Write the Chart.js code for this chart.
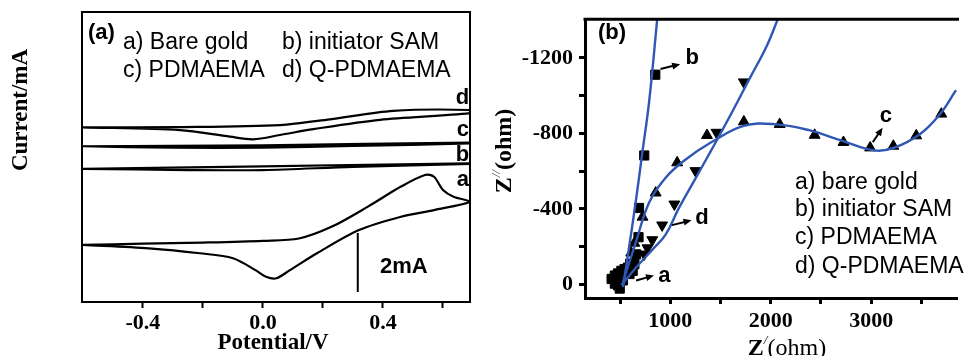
<!DOCTYPE html>
<html>
<head>
<meta charset="utf-8">
<script src="https://cdn.jsdelivr.net/npm/chart.js@4.4.1/dist/chart.umd.min.js"></script>
<style>
  html, body { margin: 0; padding: 0; background: #fff; }
  #wrap { position: relative; width: 965px; height: 356px; overflow: hidden; }
  #cv-a { position: absolute; left: 0; top: 0; }
  #cv-b { position: absolute; left: 480px; top: 0; }
</style>
</head>
<body>
<div id="wrap">
  <canvas id="cv-a" width="480" height="356"></canvas>
  <canvas id="cv-b" width="485" height="356"></canvas>
</div>
<script>
// ---- panel (a): cyclic voltammograms (curves offset vertically, y in mA) ----
const cvLabels = ['a', 'b', 'c', 'd'];
const cvA_x = [-0.6, -0.4, -0.2, 0.0, 0.12, 0.23, 0.35, 0.46, 0.54, 0.57, 0.6, 0.635, 0.69,
               0.57, 0.46, 0.32, 0.18, 0.09, 0.045, 0.01, -0.025, -0.1, -0.21, -0.38, -0.6];
const cvA_y = [1.97, 2.01, 2.05, 2.11, 2.19, 2.6, 3.29, 3.98, 4.38, 4.32, 3.86, 3.63, 3.46,
               3.17, 2.94, 2.48, 1.68, 1.10, 0.82, 0.87, 1.10, 1.51, 1.68, 1.85, 1.97];
const cvB_x = [-0.6, 0.0, 0.69, 0.69, 0.3, 0.0, -0.25, -0.6];
const cvB_y = [4.59, 4.68, 4.78, 4.76, 4.66, 4.55, 4.55, 4.59];
const cvC_x = [-0.6, 0.0, 0.69, 0.69, 0.3, 0.0, -0.3, -0.6];
const cvC_y = [5.37, 5.40, 5.50, 5.47, 5.38, 5.32, 5.32, 5.37];
const cvD_x = [-0.6, -0.277, 0.057, 0.223, 0.434, 0.69, 0.69, 0.39, 0.168, 0.057, -0.032, -0.11, -0.277, -0.6];
const cvD_y = [6.02, 6.03, 6.10, 6.30, 6.59, 6.62, 6.51, 6.28, 5.96, 5.76, 5.61, 5.70, 5.93, 6.02];
const scaleBar_x = [0.316, 0.316];
const scaleBar_y = [0.345, 2.38];
const potTicks = [-0.4, -0.2, 0.0, 0.2, 0.4, 0.6];
const potTickLabels = [-0.4, 0.0, 0.4];

// ---- panel (b): Nyquist plots, Z' and Z'' in ohm ----
const bareGold_re = [415, 447, 479, 512, 544, 577, 610, 642, 625, 593, 528, 479, 496, 447];
const bareGold_im = [-29, -47, -58, -72, -81, -89, -98, -107, -72, -55, -21, 5, 22, -4];
const sam_re = [600, 659, 683, 688, 740, 850];
const sam_im = [-110, -159, -250, -405, -683, -1111];
const pdma_re = [610, 642, 723, 854, 1068, 1365, 1732, 2089, 2437, 2724, 2990, 3221, 3449, 3699];
const pdma_im = [-167, -219, -357, -485, -645, -790, -862, -848, -791, -753, -724, -733, -788, -903];
const qpdma_re = [740, 772, 820, 918, 1040, 1250, 1460, 1732];
const qpdma_im = [-160, -193, -236, -314, -425, -602, -805, -1072];
// fitted curves
const fitB_re = [528, 593, 659, 724, 789, 870];
const fitB_im = [14, -210, -452, -710, -969, -1409];
const fitC_re = [528, 659, 789, 951, 1146, 1407, 1732, 2057, 2382, 2707, 3033, 3228, 3488, 3683, 3845];
const fitC_im = [-12, -228, -434, -564, -659, -753, -840, -848, -817, -762, -710, -724, -797, -900, -1029];
const fitD_re = [512, 659, 821, 951, 1081, 1244, 1407, 1602, 1797, 1959, 2073];
const fitD_im = [5, -90, -184, -262, -400, -555, -710, -900, -1098, -1262, -1409];
const zReTicks = [500, 1000, 1500, 2000, 2500, 3000, 3500];
const zReTickLabels = [1000, 2000, 3000];
const zImTicks = [-1200, -1000, -800, -600, -400, -200, 0];
const zImTickLabels = [-1200, -800, -400, 0];

const SERIF = '"Liberation Serif", "Times New Roman", serif';
const SANS = '"Liberation Sans", Arial, sans-serif';
const BLUE = '#2f57b3';

function toPoints(xs, ys) {
  return xs.map((x, i) => ({ x: x, y: ys[i] }));
}

function drawRuns(ctx, runs, x, y, rotate, align) {
  ctx.save();
  ctx.translate(x, y);
  if (rotate) ctx.rotate(rotate);
  let w = 0;
  runs.forEach(r => { ctx.font = r.font; w += ctx.measureText(r.text).width; });
  let cx = align === 'center' ? -w / 2 : (align === 'right' ? -w : 0);
  ctx.textBaseline = 'middle';
  ctx.textAlign = 'left';
  ctx.fillStyle = '#000';
  runs.forEach(r => {
    ctx.font = r.font;
    ctx.fillText(r.text, cx, r.dy || 0);
    cx += ctx.measureText(r.text).width;
  });
  ctx.restore();
}

// frame sides, arrows and text labels
const marksPlugin = {
  id: 'marks',
  afterDraw(chart, args, opts) {
    const ctx = chart.ctx;
    const area = chart.chartArea;
    const sx = chart.scales.x, sy = chart.scales.y;
    const px = (p) => [sx.getPixelForValue(p[0]), sy.getPixelForValue(p[1])];
    ctx.save();
    ctx.strokeStyle = '#000';
    ctx.lineWidth = opts.frameWidth;
    const h = opts.frameWidth / 2;
    ctx.beginPath();
    if (opts.frame.includes('top')) { ctx.moveTo(area.left - h, area.top); ctx.lineTo(area.right + h, area.top); }
    if (opts.frame.includes('right')) { ctx.moveTo(area.right, area.top - h); ctx.lineTo(area.right, area.bottom + h); }
    ctx.stroke();

    (opts.arrows || []).forEach(a => {
      const [x1, y1] = px(a.from), [x2, y2] = px(a.to);
      const ang = Math.atan2(y2 - y1, x2 - x1);
      ctx.lineWidth = 2;
      ctx.beginPath();
      ctx.moveTo(x1, y1);
      ctx.lineTo(x2 - 5 * Math.cos(ang), y2 - 5 * Math.sin(ang));
      ctx.stroke();
      ctx.beginPath();
      ctx.moveTo(x2, y2);
      ctx.lineTo(x2 - 8 * Math.cos(ang) + 3.5 * Math.sin(ang), y2 - 8 * Math.sin(ang) - 3.5 * Math.cos(ang));
      ctx.lineTo(x2 - 8 * Math.cos(ang) - 3.5 * Math.sin(ang), y2 - 8 * Math.sin(ang) + 3.5 * Math.cos(ang));
      ctx.closePath();
      ctx.fillStyle = '#000';
      ctx.fill();
    });

    (opts.texts || []).forEach(t => {
      let x = t.x, y = t.y;
      if (t.data) { [x, y] = px([t.x, t.y]); }
      drawRuns(ctx, t.runs, x, y, t.rotate, t.align);
    });
    ctx.restore();
  }
};

const tickFont = { family: SERIF, size: 22, weight: 'bold' };
const lab = (s, font) => [{ text: s, font: font }];
const sansN = '23px ' + SANS;
const sansB = 'bold 22px ' + SANS;

// ---------- chart (a) ----------
const cvSets = [[cvA_x, cvA_y], [cvB_x, cvB_y], [cvC_x, cvC_y], [cvD_x, cvD_y]];
const datasetsA = cvSets.map((c, i) => ({
  label: cvLabels[i],
  data: toPoints(c[0], c[1]),
  showLine: true,
  borderColor: '#000',
  borderWidth: 2.2,
  pointRadius: 0,
  tension: 0.3,
  fill: false
}));
datasetsA.push({
  label: '2mA',
  data: toPoints(scaleBar_x, scaleBar_y),
  showLine: true,
  borderColor: '#000',
  borderWidth: 2,
  pointRadius: 0,
  tension: 0
});

new Chart(document.getElementById('cv-a'), {
  type: 'scatter',
  data: { datasets: datasetsA },
  options: {
    responsive: false,
    animation: false,
    devicePixelRatio: 1,
    layout: { padding: { left: 0, right: 10, top: 12, bottom: 0 } },
    plugins: {
      legend: { display: false },
      tooltip: { enabled: false },
      marks: {
        frame: ['top', 'right'],
        frameWidth: 2,
        texts: [
          { runs: lab('(a)', sansB), x: 88, y: 33 },
          { runs: lab('a) Bare gold', sansN), x: 123, y: 43 },
          { runs: lab('b) initiator SAM', sansN), x: 282, y: 43 },
          { runs: lab('c) PDMAEMA', sansN), x: 123, y: 71 },
          { runs: lab('d) Q-PDMAEMA', sansN), x: 282, y: 71 },
          { runs: lab('d', sansB), x: 0.687, y: 7.03, data: true, align: 'right' },
          { runs: lab('c', sansB), x: 0.687, y: 5.93, data: true, align: 'right' },
          { runs: lab('b', sansB), x: 0.687, y: 5.07, data: true, align: 'right' },
          { runs: lab('a', sansB), x: 0.687, y: 4.21, data: true, align: 'right' },
          { runs: lab('2mA', sansB), x: 0.39, y: 1.21, data: true },
          { runs: lab('Current/mA', 'bold 23px ' + SERIF), x: 21, y: 110, rotate: -Math.PI / 2, align: 'center' },
          { runs: lab('Potential/V', 'bold 23px ' + SERIF), x: 273, y: 343, align: 'center' }
        ]
      }
    },
    scales: {
      x: {
        type: 'linear',
        min: -0.603,
        max: 0.69,
        afterFit: s => { s.height = 54; },
        afterBuildTicks: s => { s.ticks = potTicks.map(v => ({ value: v })); },
        grid: { drawOnChartArea: false, tickLength: 6, tickWidth: 2, tickColor: '#000' },
        border: { color: '#000', width: 2 },
        ticks: {
          color: '#000', font: tickFont, padding: 2, maxRotation: 0, autoSkip: false,
          callback: v => potTickLabels.includes(v) ? v.toFixed(1) : ''
        }
      },
      y: {
        type: 'linear',
        min: 0,
        max: 10,
        afterFit: s => { s.width = 82; },
        grid: { drawOnChartArea: false, drawTicks: false },
        border: { color: '#000', width: 2 },
        ticks: { display: false }
      }
    }
  },
  plugins: [marksPlugin]
});

// ---------- chart (b) ----------
const fitLine = (re, im, name) => ({
  label: name,
  data: toPoints(re, im),
  showLine: true,
  borderColor: BLUE,
  borderWidth: 2.4,
  pointRadius: 0,
  tension: 0.4,
  fill: false
});
const markers = (re, im, name, style, r, rot) => ({
  label: name,
  data: toPoints(re, im),
  showLine: false,
  pointStyle: style,
  pointRadius: r,
  pointRotation: rot || 0,
  pointBackgroundColor: '#000',
  pointBorderColor: '#000',
  pointBorderWidth: 1
});

new Chart(document.getElementById('cv-b'), {
  type: 'scatter',
  data: {
    datasets: [
      fitLine(fitB_re, fitB_im, 'fit b'),
      fitLine(fitC_re, fitC_im, 'fit c'),
      fitLine(fitD_re, fitD_im, 'fit d'),
      markers(bareGold_re, bareGold_im, 'a) bare gold', 'rect', 6.5),
      markers(sam_re, sam_im, 'b) initiator SAM', 'rect', 6.5),
      markers(pdma_re, pdma_im, 'c) PDMAEMA', 'triangle', 6.3),
      markers(qpdma_re, qpdma_im, 'd) Q-PDMAEMA', 'triangle', 6.3, 180)
    ]
  },
  options: {
    responsive: false,
    animation: false,
    devicePixelRatio: 1,
    layout: { padding: { left: 0, right: 0, top: 12, bottom: 0 } },
    plugins: {
      legend: { display: false },
      tooltip: { enabled: false },
      marks: {
        frame: ['top'],
        frameWidth: 3,
        arrows: [
          { from: [902, -1141], to: [1098, -1167] },
          { from: [1016, -314], to: [1211, -340] },
          { from: [659, -21], to: [837, -47] },
          { from: [3016, -753], to: [3114, -830] }
        ],
        texts: [
          { runs: lab('(b)', sansB), x: 118, y: 33 },
          { runs: lab('b', sansB), x: 1218, y: -1200, data: true, align: 'center' },
          { runs: lab('d', sansB), x: 1315, y: -351, data: true, align: 'center' },
          { runs: lab('a', sansB), x: 941, y: -47, data: true, align: 'center' },
          { runs: lab('c', sansB), x: 3146, y: -890, data: true, align: 'center' },
          { runs: lab('a) bare gold', sansN), x: 315, y: 183 },
          { runs: lab('b) initiator SAM', sansN), x: 315, y: 210 },
          { runs: lab('c) PDMAEMA', sansN), x: 315, y: 238 },
          { runs: lab('d) Q-PDMAEMA', sansN), x: 315, y: 267 },
          { runs: [{ text: 'Z', font: 'bold 24px ' + SERIF },
                   { text: '//', font: 'italic 13px ' + SERIF, dy: -8 },
                   { text: '(ohm)', font: 'bold 24px ' + SERIF }],
            x: 25, y: 151, rotate: -Math.PI / 2, align: 'center' },
          { runs: [{ text: 'Z', font: 'bold 24px ' + SERIF },
                   { text: '/', font: 'italic 13px ' + SERIF, dy: -8 },
                   { text: '(ohm)', font: '24px ' + SERIF }],
            x: 307, y: 349, align: 'center' }
        ]
      }
    },
    scales: {
      x: {
        type: 'linear',
        min: 150,
        max: 3860,
        afterFit: s => { s.height = 58; },
        afterBuildTicks: s => { s.ticks = zReTicks.map(v => ({ value: v })); },
        grid: { drawOnChartArea: false, tickLength: 6, tickWidth: 3, tickColor: '#000' },
        border: { color: '#000', width: 3 },
        ticks: {
          color: '#000', font: tickFont, padding: 4, maxRotation: 0, autoSkip: false,
          callback: v => zReTickLabels.includes(v) ? String(v) : ''
        }
      },
      y: {
        type: 'linear',
        reverse: true,
        min: -1405,
        max: 72,
        afterFit: s => { s.width = 105; },
        afterBuildTicks: s => { s.ticks = zImTicks.map(v => ({ value: v })); },
        grid: { drawOnChartArea: false, tickLength: 6, tickWidth: 3, tickColor: '#000' },
        border: { color: '#000', width: 3 },
        ticks: {
          color: '#000', font: tickFont, padding: 6, autoSkip: false,
          callback: v => zImTickLabels.includes(v) ? String(v) : ''
        }
      }
    }
  },
  plugins: [marksPlugin]
});
</script>
</body>
</html>
